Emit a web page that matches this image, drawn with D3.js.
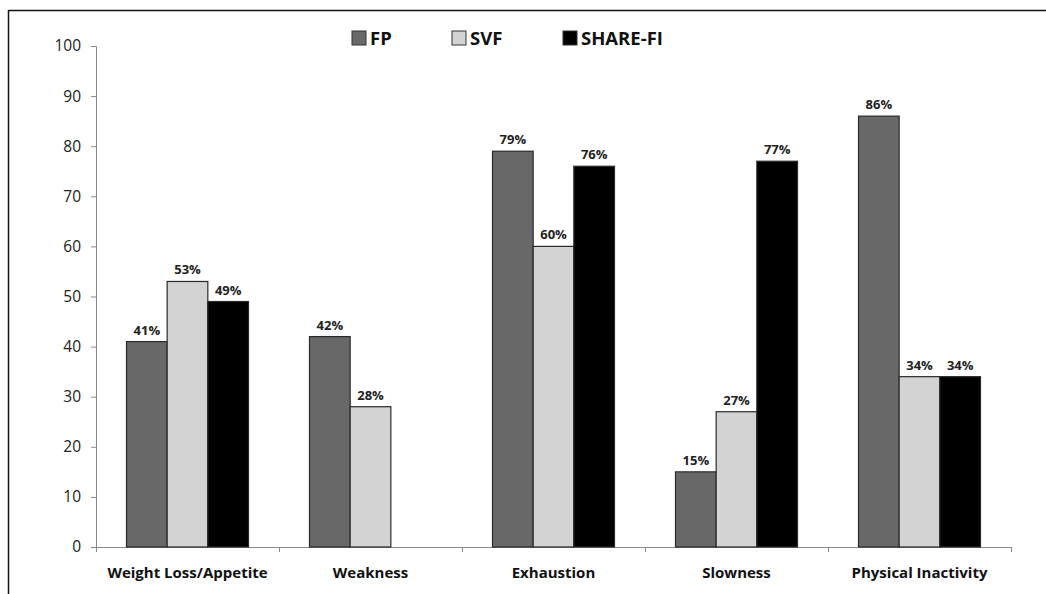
<!DOCTYPE html>
<html>
<head>
<meta charset="utf-8">
<script src="https://cdn.jsdelivr.net/npm/d3@7"></script>
<style>
  html, body { margin: 0; padding: 0; background: #fff; }
  svg { display: block; font-family: "Open Sans", "Liberation Sans", sans-serif; }
</style>
</head>
<body>
<svg id="chart" width="1046" height="594"></svg>
<script>
// Frailty criteria prevalence by instrument
const categories = ["Weight Loss/Appetite", "Weakness", "Exhaustion", "Slowness", "Physical Inactivity"];
const seriesNames = ["FP", "SVF", "SHARE-FI"];
const fpValues = [41, 42, 79, 15, 86];
const svfValues = [53, 28, 60, 27, 34];
const shareValues = [49, null, 76, 77, 34];
const yTicks = [0, 10, 20, 30, 40, 50, 60, 70, 80, 90, 100];
const seriesColors = ["#686868", "#d3d3d3", "#000000"];

const seriesValues = [fpValues, svfValues, shareValues];

const svg = d3.select("#chart");
const margin = { left: 96, right: 35, top: 46, bottom: 47 };
const W = 1046, H = 594;

// Frame lines (top and left)
svg.append("line").attr("x1", 8.5).attr("x2", W).attr("y1", 10.5).attr("y2", 10.5)
  .attr("stroke", "#111").attr("stroke-width", 1.5);
svg.append("line").attr("x1", 8.5).attr("x2", 8.5).attr("y1", 10).attr("y2", H)
  .attr("stroke", "#111").attr("stroke-width", 1.5);

const x0 = d3.scaleBand().domain(categories)
  .range([margin.left, W - margin.right]).paddingInner(0).paddingOuter(0);
const barW = x0.bandwidth() / 4.5;
const x1 = d3.scaleBand().domain(seriesNames)
  .range([0, barW * 3]).padding(0);
const groupOffset = (x0.bandwidth() - barW * 3) / 2;

const y = d3.scaleLinear().domain([0, 100]).range([H - margin.bottom, margin.top]);

// Y axis
const yAxis = svg.append("g").attr("transform", `translate(${margin.left},0)`)
  .call(d3.axisLeft(y).tickValues(yTicks).tickSize(5).tickPadding(10).tickFormat(d3.format("d")));
yAxis.select(".domain").attr("stroke", "#8a8a8a");
yAxis.selectAll(".tick line").attr("stroke", "#8a8a8a");
yAxis.selectAll(".tick text").attr("font-size", 15.5).attr("fill", "#222")
  .attr("font-family", "'Open Sans', sans-serif");

// X axis with ticks between categories
const xAxisG = svg.append("g").attr("transform", `translate(0,${y(0)})`);
xAxisG.append("line").attr("x1", margin.left).attr("x2", W - margin.right)
  .attr("y1", 0.5).attr("y2", 0.5).attr("stroke", "#8a8a8a");
const boundaries = categories.map(c => x0(c)).concat([x0(categories[categories.length - 1]) + x0.bandwidth()]);
xAxisG.selectAll(".xt").data(boundaries).join("line")
  .attr("x1", d => d + 0.5).attr("x2", d => d + 0.5).attr("y1", 0).attr("y2", 5)
  .attr("stroke", "#8a8a8a");
xAxisG.selectAll(".xl").data(categories).join("text")
  .attr("x", d => x0(d) + x0.bandwidth() / 2)
  .attr("y", 31)
  .attr("text-anchor", "middle")
  .attr("font-size", 15).attr("font-weight", "bold").attr("fill", "#111")
  .text(d => d);

// Bars
const bars = [];
categories.forEach((c, i) => {
  seriesNames.forEach((s, j) => {
    const v = seriesValues[j][i];
    if (v != null) bars.push({ c, s, j, v });
  });
});

svg.append("g").selectAll("rect").data(bars).join("rect")
  .attr("x", d => x0(d.c) + groupOffset + x1(d.s))
  .attr("y", d => y(d.v))
  .attr("width", barW)
  .attr("height", d => y(0) - y(d.v))
  .attr("fill", d => seriesColors[d.j])
  .attr("stroke", "#2a2a2a").attr("stroke-width", 1.2);

// Value labels
svg.append("g").selectAll("text").data(bars).join("text")
  .attr("x", d => x0(d.c) + groupOffset + x1(d.s) + barW / 2)
  .attr("y", d => y(d.v) - 7)
  .attr("text-anchor", "middle")
  .attr("font-size", 13).attr("font-weight", "bold").attr("fill", "#222")
  .text(d => d.v + "%");

// Legend
const legendX = [352, 452, 563];
const legend = svg.append("g");
seriesNames.forEach((s, j) => {
  legend.append("rect").attr("x", legendX[j]).attr("y", 31).attr("width", 14).attr("height", 14)
    .attr("fill", seriesColors[j]).attr("stroke", "#333").attr("stroke-width", 1);
  legend.append("text").attr("x", legendX[j] + 18).attr("y", 45)
    .attr("font-size", 18.5).attr("font-weight", "bold").attr("fill", "#111").text(s);
});
</script>
</body>
</html>
